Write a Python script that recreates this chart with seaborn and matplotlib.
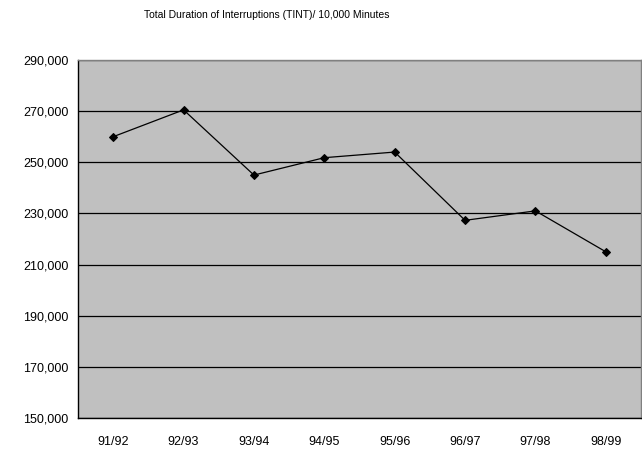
import matplotlib
matplotlib.use("Agg")
import matplotlib.pyplot as plt
import matplotlib.ticker as mticker
import seaborn as sns
import pandas as pd

seasons = ["91/92", "92/93", "93/94", "94/95", "95/96", "96/97", "97/98", "98/99"]
tint = [260000, 270500, 245000, 251800, 254000, 227300, 231000, 215000]

df = pd.DataFrame({"season": seasons, "tint": tint})
df["pos"] = range(len(seasons))

sns.set_style("white")
plt.rcParams["font.family"] = ["Liberation Sans", "DejaVu Sans"]

fig = plt.figure(figsize=(6.42, 4.51), dpi=100)
ax = fig.add_axes([78 / 642, 1 - 418 / 451, 563 / 642, 358 / 451])
ax.set_facecolor("#c0c0c0")

# Gridlines behind the data
ax.set_axisbelow(True)
ax.yaxis.grid(True, color="black", linewidth=0.9)

sns.lineplot(data=df, x="pos", y="tint", ax=ax, color="black", linewidth=0.9,
             marker="D", markersize=3.6, markeredgecolor="black")

ax.set_xlim(-0.5, len(seasons) - 0.5)
ax.set_ylim(150000, 290000)
ax.set_yticks(range(150000, 290001, 20000))
ax.yaxis.set_major_formatter(mticker.FuncFormatter(lambda v, p: f"{int(v):,}"))

ax.set_xticks(range(len(seasons)))
ax.set_xticklabels(seasons)
ax.set_xticks([i - 0.5 for i in range(len(seasons) + 1)], minor=True)
ax.tick_params(axis="x", which="major", length=0, pad=13, labelsize=9, labelcolor="black")
ax.tick_params(axis="x", which="minor", length=4, width=1, color="black", direction="out")
ax.tick_params(axis="y", length=4, width=1, color="black", direction="out", pad=3,
               labelsize=9, labelcolor="black")

ax.set_xlabel("")
ax.set_ylabel("")

for side in ["left", "bottom"]:
    ax.spines[side].set_color("black")
    ax.spines[side].set_linewidth(1)
for side in ["top", "right"]:
    ax.spines[side].set_color("#808080")
    ax.spines[side].set_linewidth(1)

fig.text(0.415, 1 - 15 / 451, "Total Duration of Interruptions (TINT)/ 10,000 Minutes",
         ha="center", va="center", fontsize=7.5, color="black")

fig.savefig("out.png", dpi=100, facecolor="white")
